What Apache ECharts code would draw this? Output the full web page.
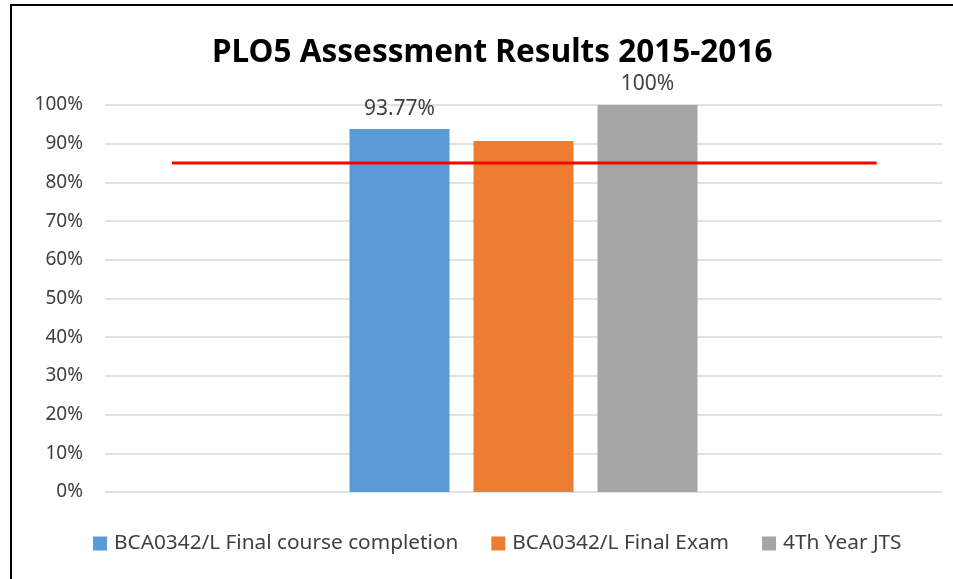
<!DOCTYPE html>
<html>
<head>
<meta charset="utf-8">
<script src="https://cdn.jsdelivr.net/npm/echarts@6/dist/echarts.min.js"></script>
<style>
  html, body { margin: 0; padding: 0; background: #fff; }
  #chart { width: 953px; height: 579px; }
</style>
</head>
<body>
<div id="chart"></div>
<script>
const categories = ['PLO5'];
const seriesNames = ['BCA0342/L Final course completion', 'BCA0342/L Final Exam', '4Th Year JTS'];
const completion = [93.77];
const finalExam = [90.7];
const jts = [100];
const target = 85;
const targetSpan = [8, 92.2];
const colors = ['#5b9bd5', '#ed7d31', '#a5a5a5'];

const chartDom = document.getElementById('chart');
const myChart = echarts.init(chartDom);
let option;

const font = '"Noto Sans", sans-serif';

function barLabel(show) {
    return {
        show: show,
        position: 'top',
        distance: 10,
        fontFamily: font,
        fontSize: 21,
        color: '#404040',
        formatter: function (p) {
            return p.value + '%';
        }
    };
}

option = {
    animation: false,
    title: {
        text: 'PLO5 Assessment Results 2015-2016',
        left: 207,
        top: 32,
        textStyle: {
            fontFamily: font,
            fontWeight: 'bold',
            fontSize: 31.5,
            color: '#000'
        }
    },
    legend: {
        bottom: 20,
        left: 88,
        itemWidth: 14,
        itemHeight: 14,
        itemGap: 33,
        icon: 'rect',
        textStyle: {
            fontFamily: font,
            fontSize: 20.8,
            color: '#404040',
            padding: [0, 0, 0, 2]
        },
        data: seriesNames
    },
    grid: {
        left: 105,
        right: 11,
        top: 105,
        bottom: 87
    },
    xAxis: [
        {
            type: 'category',
            data: categories,
            axisLine: {show: false},
            axisTick: {show: false},
            axisLabel: {show: false}
        },
        {
            type: 'value',
            min: 0,
            max: 100,
            show: false
        }
    ],
    yAxis: {
        type: 'value',
        min: 0,
        max: 100,
        interval: 10,
        axisLine: {show: false},
        axisTick: {show: false},
        axisLabel: {
            formatter: '{value}%',
            fontFamily: font,
            fontSize: 19,
            color: '#404040',
            margin: 22
        },
        splitLine: {
            lineStyle: {color: '#d9d9d9', width: 1.5}
        }
    },
    series: [
        {
            name: seriesNames[0],
            type: 'bar',
            data: completion,
            barWidth: 100,
            barGap: '24%',
            itemStyle: {color: colors[0]},
            label: barLabel(true)
        },
        {
            name: seriesNames[1],
            type: 'bar',
            data: finalExam,
            barWidth: 100,
            barGap: '24%',
            itemStyle: {color: colors[1]},
            label: barLabel(false)
        },
        {
            name: seriesNames[2],
            type: 'bar',
            data: jts,
            barWidth: 100,
            barGap: '24%',
            itemStyle: {color: colors[2]},
            label: barLabel(true)
        },
        {
            name: 'Target',
            type: 'line',
            xAxisIndex: 1,
            data: targetSpan.map(function (x) { return [x, target]; }),
            symbol: 'none',
            lineStyle: {color: '#ff0000', width: 3},
            z: 5
        }
    ],
    graphic: [
        {
            type: 'rect',
            shape: {x: 11, y: 5, width: 960, height: 600},
            style: {fill: 'none', stroke: '#000', lineWidth: 2},
            silent: true
        }
    ]
};

option && myChart.setOption(option);
</script>
</body>
</html>
